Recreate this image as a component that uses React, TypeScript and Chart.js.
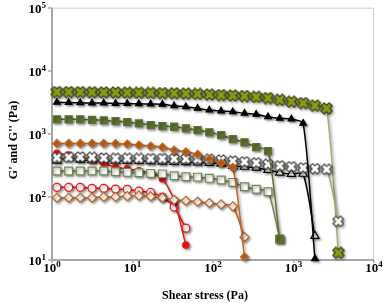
import { useEffect, useRef } from "react";
import { Chart, registerables } from "chart.js";

Chart.register(...registerables);

// Applied shear stress steps (Pa), shared by all samples
const stress = [
  1.15, 1.61, 2.24, 3.14, 4.39, 6.15, 8.6, 12.0, 16.8, 23.5, 32.9, 46.0, 64.3,
  90, 126, 176, 246, 344, 482, 674, 942, 1318, 1845, 2578, 3606,
];

// Storage (G') and loss (G'') moduli in Pa, one pair per sample
const olivePrime = [
  4600, 4600, 4580, 4560, 4540, 4520, 4500, 4480, 4450, 4430, 4400, 4350, 4300,
  4200, 4120, 4050, 3980, 3850, 3700, 3450, 3230, 3080, 2800, 2530, 13,
];
const oliveDouble = [
  420, 425, 430, 425, 415, 410, 410, 408, 405, 405, 402, 400, 398, 394, 385,
  371, 361, 348, 329, 312, 301, 290, 280, 274, 41,
];
const blackPrime = [
  3160, 3130, 3110, 3080, 3080, 3040, 3020, 3000, 2965, 2940, 2790, 2690, 2535,
  2384, 2296, 2240, 2113, 2037, 1866, 1762, 1717, 1466, 10.5,
];
const blackDouble = [
  375, 420, 390, 380, 378, 375, 372, 370, 368, 361, 358, 355, 350, 344, 340,
  310, 300, 290, 267, 242, 231, 232, 24,
];
const greenPrime = [
  1700, 1700, 1700, 1672, 1636, 1595, 1538, 1466, 1378, 1329, 1296, 1222, 1149,
  1057, 957, 827, 733, 618, 534, 21.5,
];
const greenDouble = [
  257, 257, 257, 257, 257, 251, 245, 242, 236, 232, 217, 209, 206, 197, 185,
  170, 145, 132, 121, 21.5,
];
const brownPrime = [
  705, 705, 705, 705, 705, 700, 690, 664, 640, 615, 553, 520, 473, 398, 344,
  294, 11.2,
];
const brownDouble = [
  97, 97, 97, 97, 100, 100, 103, 105, 102, 97, 90, 87, 84, 80, 76, 71, 23,
];
const redPrime = [491, 460, 425, 390, 345, 295, 278, 260, 240, 195, 89, 17.3];
const redDouble = [142, 142, 142, 137, 137, 133, 132, 124, 118, 99.6, 69, 32];

const decades = [0, 1, 2, 3, 4];
const yDecades = [1, 2, 3, 4, 5];

const FONT = '"Liberation Serif", "Times New Roman", serif';

function crossMarker(size: number, fill: string, stroke: string) {
  const c = document.createElement("canvas");
  c.width = size;
  c.height = size;
  const g = c.getContext("2d")!;
  const m = size / 2;
  const a = size * 0.17;
  const L = m * Math.SQRT2 - a - 1.2;
  g.translate(m, m);
  g.rotate(Math.PI / 4);
  const pts = [
    [-a, -L], [a, -L], [a, -a], [L, -a], [L, a], [a, a],
    [a, L], [-a, L], [-a, a], [-L, a], [-L, -a], [-a, -a],
  ];
  g.beginPath();
  pts.forEach(([x, y], i) => (i ? g.lineTo(x, y) : g.moveTo(x, y)));
  g.closePath();
  g.lineJoin = "round";
  g.fillStyle = fill;
  g.fill();
  g.lineWidth = 1.3;
  g.strokeStyle = stroke;
  g.stroke();
  return c;
}

function pairs(values: number[]) {
  return values.map((y, i) => ({ x: stress[i], y }));
}

function drawPow(
  ctx: CanvasRenderingContext2D,
  exp: number,
  x: number,
  y: number,
  align: "center" | "right"
) {
  ctx.font = `bold 13px ${FONT}`;
  const wBase = ctx.measureText("10").width;
  ctx.font = `bold 9px ${FONT}`;
  const wExp = ctx.measureText(String(exp)).width;
  const total = wBase + wExp;
  const left = align === "center" ? x - total / 2 : x - total;
  ctx.textAlign = "left";
  ctx.textBaseline = "alphabetic";
  ctx.font = `bold 13px ${FONT}`;
  ctx.fillText("10", left, y);
  ctx.font = `bold 9px ${FONT}`;
  ctx.fillText(String(exp), left + wBase, y - 5);
}

const framePlugin = {
  id: "frameAndShade",
  beforeDatasetsDraw(chart: any) {
    const { ctx, chartArea: a, scales } = chart;
    ctx.save();
    ctx.strokeStyle = "#cfcfcf";
    ctx.lineWidth = 1;
    ctx.beginPath();
    ctx.moveTo(a.left, a.top + 0.5);
    ctx.lineTo(a.right - 0.5, a.top + 0.5);
    ctx.lineTo(a.right - 0.5, a.bottom);
    ctx.stroke();
    ctx.strokeStyle = "#a8a8a8";
    ctx.lineWidth = 2;
    ctx.beginPath();
    ctx.moveTo(a.left, a.top);
    ctx.lineTo(a.left, a.bottom);
    ctx.lineTo(a.right, a.bottom);
    ctx.stroke();
    ctx.lineWidth = 1.5;
    ctx.beginPath();
    yDecades.forEach((e) => {
      const py = Math.round(scales.y.getPixelForValue(Math.pow(10, e)));
      ctx.moveTo(a.left - 4, py);
      ctx.lineTo(a.left, py);
    });
    decades.forEach((e) => {
      const px = Math.round(scales.x.getPixelForValue(Math.pow(10, e)));
      ctx.moveTo(px, a.bottom);
      ctx.lineTo(px, a.bottom + 3);
    });
    ctx.stroke();
    ctx.restore();

    // soft drop shadow under every curve and marker
    ctx.save();
    ctx.shadowColor = "rgba(0,0,0,0.38)";
    ctx.shadowBlur = 2.5;
    ctx.shadowOffsetX = 1.5;
    ctx.shadowOffsetY = 1.5;
  },
  afterDatasetsDraw(chart: any) {
    chart.ctx.restore();
  },
  afterDraw(chart: any) {
    const { ctx, chartArea: a, scales } = chart;
    ctx.save();
    ctx.fillStyle = "#000";
    decades.forEach((e) => {
      const px = scales.x.getPixelForValue(Math.pow(10, e));
      drawPow(ctx, e, px, a.bottom + 12, "center");
    });
    yDecades.forEach((e) => {
      const py = scales.y.getPixelForValue(Math.pow(10, e));
      drawPow(ctx, e, a.left - 6, py + 5, "right");
    });
    ctx.font = `bold 12px ${FONT}`;
    ctx.textAlign = "center";
    ctx.textBaseline = "middle";
    ctx.fillText("Shear stress (Pa)", 205, 296);
    ctx.translate(14, 140);
    ctx.rotate(-Math.PI / 2);
    ctx.fillText("G' and G'' (Pa)", 0, 0);
    ctx.restore();
  },
};

export default function App() {
  const ref = useRef<HTMLCanvasElement>(null);

  useEffect(() => {
    document.body.style.margin = "0";
    const oliveX = crossMarker(13, "#8a9a16", "#3e4418");
    const whiteX = crossMarker(12, "#ffffff", "#4a4a4a");

    const red = "#ef1616";
    const brown = "#c4661f";
    const green = "#5e7233";
    const greenLight = "#71864f";
    const olive = "#9fb070";

    const base = {
      borderWidth: 1.5,
      tension: 0.25,
      clip: false as const,
      pointBorderWidth: 1.2,
    };

    // the first dataset is painted last, i.e. on top
    const chart = new Chart(ref.current!, {
      type: "line",
      data: {
        datasets: [
          {
            ...base,
            label: "B G'",
            data: pairs(brownPrime),
            borderColor: brown,
            pointStyle: "rectRot",
            pointRadius: 4,
            pointBackgroundColor: brown,
            pointBorderColor: brown,
          },
          {
            ...base,
            label: "B G''",
            data: pairs(brownDouble),
            borderColor: brown,
            pointStyle: "rectRot",
            pointRadius: 4.5,
            pointBackgroundColor: "#fff",
            pointBorderColor: brown,
          },
          {
            ...base,
            label: "C G'",
            data: pairs(greenPrime),
            borderColor: green,
            pointStyle: "rect",
            pointRadius: 5,
            pointBackgroundColor: green,
            pointBorderColor: green,
          },
          {
            ...base,
            label: "C G''",
            data: pairs(greenDouble),
            borderColor: greenLight,
            pointStyle: "rect",
            pointRadius: 5.5,
            pointBackgroundColor: "#fff",
            pointBorderColor: greenLight,
          },
          {
            ...base,
            label: "D G'",
            data: pairs(blackPrime),
            borderColor: "#000",
            pointStyle: "triangle",
            pointRadius: 3.8,
            pointBackgroundColor: "#000",
            pointBorderColor: "#000",
          },
          {
            ...base,
            label: "E G''",
            data: pairs(oliveDouble),
            borderColor: olive,
            pointStyle: whiteX,
            pointRadius: 6,
          },
          {
            ...base,
            label: "A G'",
            data: pairs(redPrime),
            borderColor: red,
            pointStyle: "circle",
            pointRadius: 3.2,
            pointBackgroundColor: red,
            pointBorderColor: red,
          },
          {
            ...base,
            label: "D G''",
            data: pairs(blackDouble),
            borderColor: "#000",
            pointStyle: "triangle",
            pointRadius: 4.8,
            pointBackgroundColor: "#fff",
            pointBorderColor: "#000",
          },
          {
            ...base,
            label: "A G''",
            data: pairs(redDouble),
            borderColor: red,
            pointStyle: "circle",
            pointRadius: 4,
            pointBackgroundColor: "#fff",
            pointBorderColor: red,
          },
          {
            ...base,
            label: "E G'",
            data: pairs(olivePrime),
            borderColor: olive,
            pointStyle: oliveX,
            pointRadius: 6.5,
          },
        ],
      },
      options: {
        animation: false,
        responsive: false,
        events: [],
        layout: { padding: { left: 52, right: 11, top: 7, bottom: 43 } },
        plugins: {
          legend: { display: false },
          tooltip: { enabled: false },
          title: { display: false },
        },
        scales: {
          x: { type: "logarithmic", min: 1, max: 10000, display: false },
          y: { type: "logarithmic", min: 10, max: 100000, display: false },
        },
      },
      plugins: [framePlugin],
    });
    return () => chart.destroy();
  }, []);

  return (
    <div style={{ width: 385, height: 303, background: "#fff" }}>
      <canvas ref={ref} width={385} height={303} />
    </div>
  );
}
